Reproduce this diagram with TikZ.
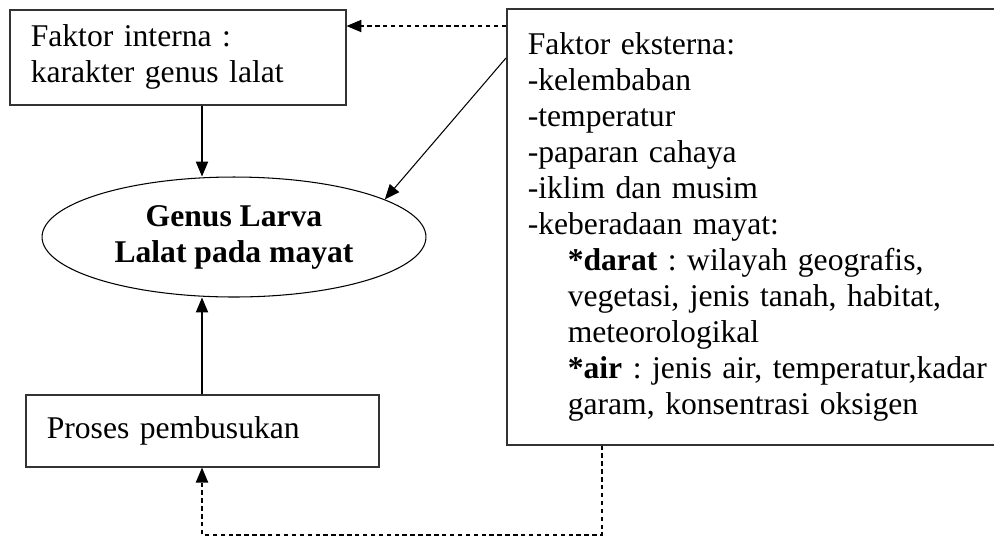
\documentclass[tikz,border=0pt]{standalone}
\usepackage{fontspec}
\setmainfont{Liberation Serif}
\usepackage{tikz}
\usetikzlibrary{shapes.geometric,arrows.meta}
\frenchspacing
\newcommand{\indt}{\hspace*{0.8cm}}
\tikzset{
  every node/.style={font=\fontsize{18}{20.5}\selectfont},
  kotak/.style={draw=black!80,line width=0.9pt,align=left,anchor=north west,
    inner xsep=0.42cm,inner ysep=0pt},
  panah/.style={line width=0.6pt,-{Triangle[length=8.5pt,width=7pt]}},
  putus/.style={panah,dash pattern=on 2.5pt off 2pt},
}

\begin{document}
\begin{tikzpicture}[x=0.02cm,y=-0.02cm]
  \useasboundingbox (0,0) rectangle (994,539);
  \node[kotak,text width=5.88cm,minimum height=1.9cm] (intl) at (9,9)
    {Faktor interna :\\karakter genus lalat};
  \node[kotak,text width=10cm,minimum height=8.72cm] (ekst) at (506,8)
    {Faktor eksterna:\\-kelembaban\\-temperatur\\-paparan cahaya\\-iklim dan musim\\
     -keberadaan mayat:\\
     \indt\textbf{*darat} : wilayah geografis,\\
     \indt vegetasi, jenis tanah, habitat,\\
     \indt meteorologikal\\
     \indt\textbf{*air} : jenis air, temperatur,kadar\\
     \indt garam, konsentrasi oksigen};
  \node[kotak,text width=6.22cm,minimum height=1.44cm] (proses) at (25,394)
    {Proses pembusukan};
  \node[draw,ellipse,line width=0.6pt,inner sep=0pt,minimum width=7.68cm,
    minimum height=2.4cm,align=center,
    font=\fontsize{18}{20.5}\selectfont\bfseries] (genus) at (234,237)
    {Genus Larva\\Lalat pada mayat};
  \coordinate (bawah) at (202,535);
  \draw[panah] (intl.south -| bawah) -- (genus.north -| bawah);
  \draw[panah] (proses.north -| bawah) -- (genus.south -| bawah);
  \draw[panah] (ekst.west |- 0,58) -- (genus.14);
  \draw[putus] (ekst.west |- 0,26) -- (intl.east |- 0,26);
  \draw[putus] (ekst.south -| 602,0) |- (bawah) -- (proses.south -| bawah);
\end{tikzpicture}
\end{document}
